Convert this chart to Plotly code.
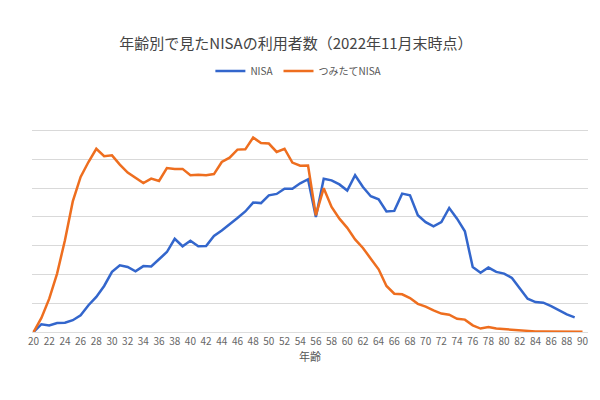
import plotly.graph_objects as go

ages = list(range(20, 91))
nisa = [0, 0.27, 0.23, 0.31, 0.32, 0.41, 0.58, 0.93, 1.22, 1.6,
        2.09, 2.32, 2.26, 2.11, 2.29, 2.28, 2.53, 2.78, 3.24, 2.98,
        3.17, 2.98, 2.99, 3.34, 3.53, 3.73, 3.96, 4.19, 4.5, 4.48,
        4.75, 4.8, 4.98, 4.98, 5.17, 5.31, 4.0, 5.33, 5.27, 5.13,
        4.92, 5.45, 5.04, 4.72, 4.61, 4.19, 4.21, 4.81, 4.75, 4.06,
        3.82, 3.67, 3.82, 4.31, 3.94, 3.5, 2.26, 2.06, 2.24, 2.09,
        2.03, 1.88, 1.51, 1.16, 1.04, 1.02, 0.9, 0.75, 0.61, 0.51]
tsumitate = [0, 0.49, 1.16, 2.03, 3.19, 4.54, 5.39, 5.91, 6.37, 6.11,
             6.14, 5.82, 5.54, 5.35, 5.18, 5.33, 5.25, 5.7, 5.67, 5.67,
             5.45, 5.47, 5.45, 5.49, 5.91, 6.06, 6.34, 6.35, 6.76, 6.57,
             6.55, 6.26, 6.37, 5.89, 5.78, 5.79, 4.06, 5.0, 4.35, 3.94,
             3.62, 3.22, 2.92, 2.55, 2.18, 1.6, 1.33, 1.31, 1.18, 0.98,
             0.88, 0.75, 0.64, 0.6, 0.46, 0.43, 0.23, 0.12, 0.17, 0.12,
             0.1, 0.09, 0.06, 0.03, 0.02, 0.02, 0.02, 0.01, 0.01, 0.01, 0.01]

fig = go.Figure()
fig.add_trace(go.Scatter(x=ages[:len(nisa)], y=nisa, name="NISA", mode="lines",
                         line=dict(color="#3366cc", width=2.5)))
fig.add_trace(go.Scatter(x=ages, y=tsumitate, name="つみたてNISA", mode="lines",
                         line=dict(color="#ee6e1f", width=2.5)))

fig.update_layout(
    width=600, height=400,
    font=dict(family="Noto Sans CJK JP", color="#555"),
    title=dict(text="年齢別で見たNISAの利用者数（2022年11月末時点）", x=0.48, y=0.91,
               xanchor="center", yanchor="middle", font=dict(size=15, color="#444")),
    legend=dict(orientation="h", x=0.48, xanchor="center", y=1.13, yanchor="middle",
                font=dict(size=10)),
    plot_bgcolor="white", paper_bgcolor="white",
    margin=dict(l=24, r=20, t=93, b=76, autoexpand=False),
    xaxis=dict(range=[19.8, 90.7], tickmode="array", tickvals=list(range(20, 91, 2)),
               tickfont=dict(size=10, color="#666"), showgrid=False,
               title=dict(text="年齢", font=dict(size=11), standoff=6),
               showline=True, linecolor="#ddd"),
    yaxis=dict(range=[0, 8.03], tickvals=list(range(1, 9)), showticklabels=False,
               gridcolor="#d9d9d9", zeroline=False),
)
fig.write_html("out.html")
